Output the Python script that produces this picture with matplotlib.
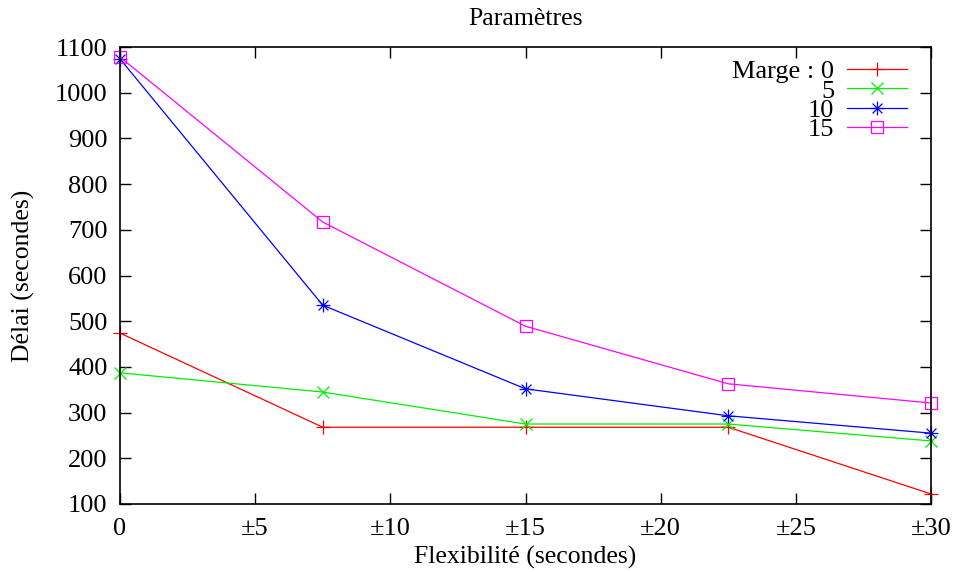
import matplotlib
matplotlib.use("Agg")
import matplotlib.pyplot as plt
from matplotlib.path import Path

plt.rcParams['font.family'] = ['Liberation Serif', 'DejaVu Serif']

flex = [0, 7.5, 15, 22.5, 30]
marge0 = [474, 268, 268, 268, 122]
marge5 = [387, 345, 275, 275, 238]
marge10 = [1074, 535, 352, 293, 255]
marge15 = [1078, 717, 489, 363, 321]
labels = ["Marge : 0", "5", "10", "15"]
xticks = [0, 5, 10, 15, 20, 25, 30]
xticklabels = ["0", "±5", "±10", "±15", "±20", "±25", "±30"]
yticks = list(range(100, 1101, 100))

# asterisk marker (+ and x combined)
d = 0.7071
star = Path([(-1, 0), (1, 0), (0, -1), (0, 1), (-d, -d), (d, d), (-d, d), (d, -d)],
            [Path.MOVETO, Path.LINETO] * 4)

fig = plt.figure(figsize=(9.57, 5.72), dpi=100)
ax = fig.add_axes([120/957, 1 - 504/572, (931-120)/957, (504-47)/572])

series = [marge0, marge5, marge10, marge15]
colors = ['#ff0000', '#00ee00', '#0000ff', '#ff00ff']
markers = ['+', 'x', star, 's']
msizes = [10, 9, 10, 8.5]
for ys, c, m, ms, lab in zip(series, colors, markers, msizes, labels):
    ax.plot(flex, ys, color=c, lw=0.9, marker=m, markersize=ms,
            markerfacecolor='none', markeredgecolor=c, markeredgewidth=0.9,
            label=lab, clip_on=False)

ax.set_xlim(0, 30)
ax.set_ylim(100, 1100)
ax.set_xticks(xticks)
ax.set_xticklabels(xticklabels)
ax.set_yticks(yticks)
ax.tick_params(direction='in', length=8, width=1, top=True, right=True,
               labelsize=19)
ax.tick_params(axis='y', pad=9)
ax.tick_params(axis='x', pad=10)
for s in ax.spines.values():
    s.set_linewidth(1.2)

ax.set_xlabel("Flexibilité (secondes)", fontsize=18.5, labelpad=4)
ax.set_ylabel("Délai (secondes)", fontsize=18.5, labelpad=14)
ax.set_title("Paramètres", fontsize=18.5, pad=16)

leg = ax.legend(loc='upper right', bbox_to_anchor=(0.970, 0.972),
                frameon=False, markerfirst=False,
                fontsize=19, handlelength=2.25, handletextpad=0.5,
                labelspacing=-0.16, borderaxespad=0, borderpad=0)

fig.savefig("out.png", dpi=100)
